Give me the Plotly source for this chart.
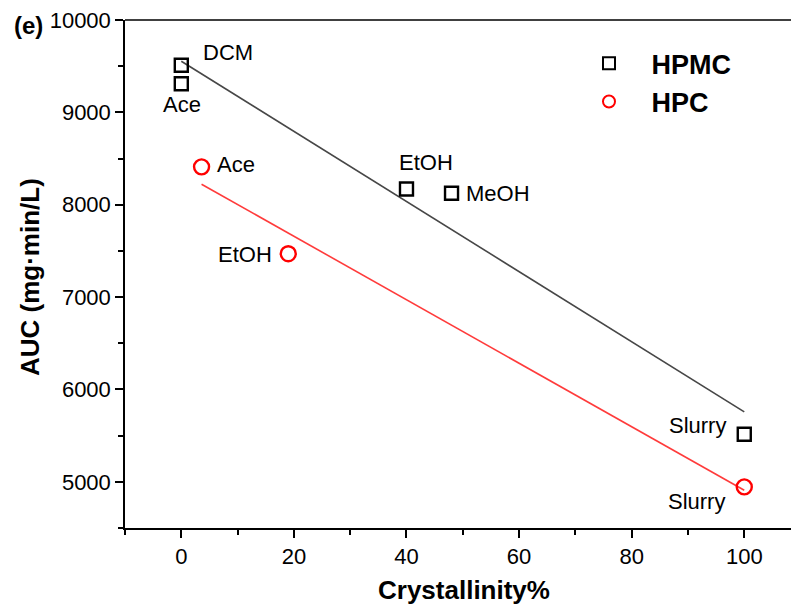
import numpy as np
import plotly.graph_objects as go

# Data
hpmc_x = [0, 0, 40, 48, 100]
hpmc_y = [9510, 9310, 8170, 8125, 5515]
hpmc_labels = ["DCM", "Ace", "EtOH", "MeOH", "Slurry"]

hpc_x = [3.6, 19, 100]
hpc_y = [8410, 7470, 4945]
hpc_labels = ["Ace", "EtOH", "Slurry"]

x_ticks = [0, 20, 40, 60, 80, 100]
y_ticks = [5000, 6000, 7000, 8000, 9000, 10000]

# linear fits
k1, b1 = np.polyfit(hpmc_x, hpmc_y, 1)
k2, b2 = np.polyfit(hpc_x, hpc_y, 1)
fit1_x = [min(hpmc_x), max(hpmc_x)]
fit2_x = [min(hpc_x), max(hpc_x)]

FONT = "Liberation Sans, Arial, sans-serif"
NB = "\u00a0"

fig = go.Figure()
fig.add_trace(go.Scatter(x=fit1_x, y=[k1 * v + b1 for v in fit1_x], mode="lines",
                         line=dict(color="#474747", width=1.6), showlegend=False, hoverinfo="skip"))
fig.add_trace(go.Scatter(x=fit2_x, y=[k2 * v + b2 for v in fit2_x], mode="lines",
                         line=dict(color="#ff3b3b", width=1.6), showlegend=False, hoverinfo="skip"))
fig.add_trace(go.Scatter(x=hpmc_x, y=hpmc_y, mode="markers", name=NB * 3 + "<b>HPMC</b>",
                         marker=dict(symbol="square-open", size=13, color="black", line=dict(width=2.4))))
fig.add_trace(go.Scatter(x=hpc_x, y=hpc_y, mode="markers", name=NB * 3 + "<b>HPC</b>",
                         marker=dict(symbol="circle-open", size=15, color="#ff0000", line=dict(width=2.4))))

# label pixel shifts (xshift, yshift)
hpmc_shift = [(47, 13), (1, -21), (20, 27), (46, 0), (-47, 9)]
hpc_shift = [(34, 2), (-43, -1), (-48, -15)]
for x, y, t, (sx, sy) in zip(hpmc_x, hpmc_y, hpmc_labels, hpmc_shift):
    fig.add_annotation(x=x, y=y, text=t, showarrow=False, xshift=sx, yshift=sy,
                       font=dict(family=FONT, size=22, color="black"))
for x, y, t, (sx, sy) in zip(hpc_x, hpc_y, hpc_labels, hpc_shift):
    fig.add_annotation(x=x, y=y, text=t, showarrow=False, xshift=sx, yshift=sy,
                       font=dict(family=FONT, size=22, color="black"))

fig.add_annotation(xref="paper", yref="paper", x=-0.1697, y=0.990, text="<b>(e)</b>", showarrow=False,
                   xanchor="left", yanchor="middle", font=dict(family=FONT, size=24, color="black"))
# axis titles
fig.add_annotation(xref="paper", yref="paper", x=0.509, y=-0.122, text="<b>Crystallinity%</b>",
                   showarrow=False, xanchor="center", yanchor="middle",
                   font=dict(family=FONT, size=26, color="black"))
fig.add_annotation(xref="paper", yref="paper", x=-0.1434, y=0.495, text="<b>AUC (mg·min/L)</b>",
                   showarrow=False, xanchor="center", yanchor="middle", textangle=-90,
                   font=dict(family=FONT, size=26, color="black"))

fig.add_shape(type="line", xref="paper", yref="paper", x0=0, x1=1, y0=1, y1=1,
              line=dict(color="black", width=1.5))

axis_common = dict(showline=True, linecolor="black", linewidth=1.5, ticks="outside", ticklen=8,
                   tickwidth=1.5, tickcolor="black", showgrid=False, zeroline=False,
                   tickfont=dict(family=FONT, size=22, color="black"),
                   minor=dict(ticks="outside", ticklen=5, tickwidth=1.5, tickcolor="black"))

fig.update_layout(
    width=791, height=607,
    margin=dict(l=125, r=0, t=20, b=79),
    plot_bgcolor="white", paper_bgcolor="white",
    xaxis=dict(range=[-10, 108.3], tickvals=x_ticks, ticktext=[str(v) for v in x_ticks],
               minor_dtick=10, minor_tick0=0, **axis_common),
    yaxis=dict(range=[4500, 10000], tickvals=y_ticks, ticktext=[str(v) for v in y_ticks],
               minor_dtick=500, minor_tick0=0, **axis_common),
    legend=dict(x=0.6967, y=0.962, xanchor="left", yanchor="top", bgcolor="rgba(0,0,0,0)",
                font=dict(family=FONT, size=27, color="black"), itemsizing="constant",
                tracegroupgap=0),
    showlegend=True,
)

fig.write_html("out.html")
